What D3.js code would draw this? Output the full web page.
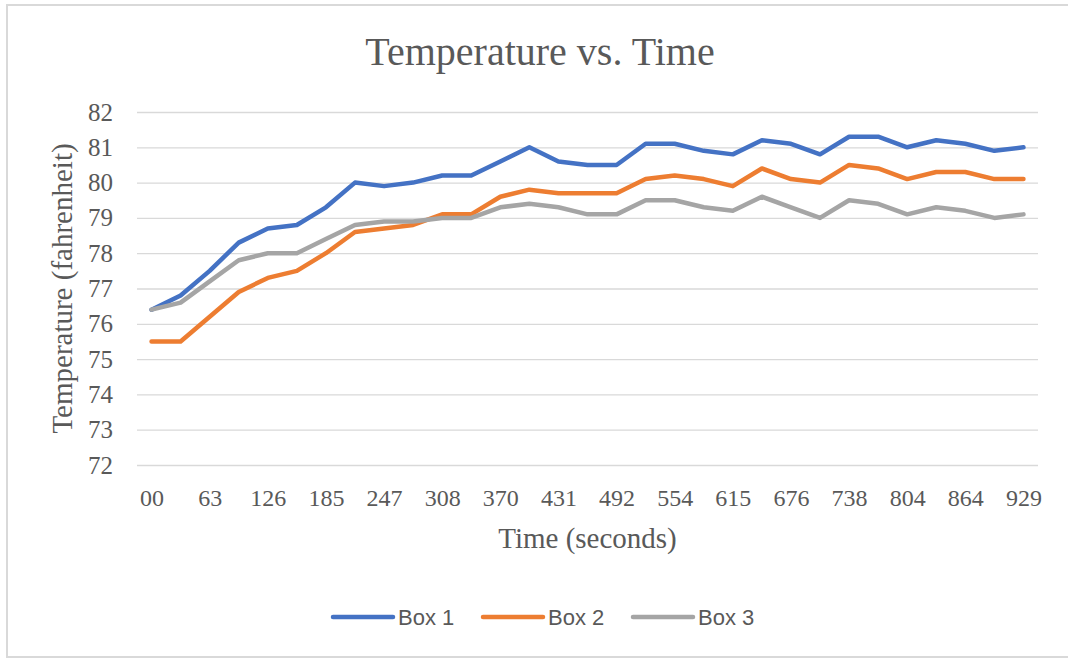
<!DOCTYPE html>
<html>
<head>
<meta charset="utf-8">
<script src="https://cdn.jsdelivr.net/npm/d3@7"></script>
<style>
  body { margin: 0; background: #fff; }
  svg { display: block; }
</style>
</head>
<body>
<div id="chart"></div>
<script>
// time stamps (only every other one is labelled on the axis)
const times = ["00","31","63","94","126","155","185","216","247","277","308","339","370","400","431","462",
  "492","523","554","585","615","646","676","707","738","771","804","834","864","897","929"];

const box1 = [76.4,76.8,77.5,78.3,78.7,78.8,79.3,80.0,79.9,80.0,80.2,80.2,80.6,81.0,80.6,80.5,
  80.5,81.1,81.1,80.9,80.8,81.2,81.1,80.8,81.3,81.3,81.0,81.2,81.1,80.9,81.0];
const box2 = [75.5,75.5,76.2,76.9,77.3,77.5,78.0,78.6,78.7,78.8,79.1,79.1,79.6,79.8,79.7,79.7,
  79.7,80.1,80.2,80.1,79.9,80.4,80.1,80.0,80.5,80.4,80.1,80.3,80.3,80.1,80.1];
const box3 = [76.4,76.6,77.2,77.8,78.0,78.0,78.4,78.8,78.9,78.9,79.0,79.0,79.3,79.4,79.3,79.1,
  79.1,79.5,79.5,79.3,79.2,79.6,79.3,79.0,79.5,79.4,79.1,79.3,79.2,79.0,79.1];

const seriesNames = ["Box 1", "Box 2", "Box 3"];
const yTicks = [72,73,74,75,76,77,78,79,80,81,82];

const series = [box1, box2, box3].map((v, k) => ({name: seriesNames[k], values: v}));

let width = 1068, height = 658;
let plot = {left: 137, right: 1038, top: 112, bottom: 465};
let serif = "'Liberation Serif', 'Times New Roman', serif";

let svg = d3.select("#chart").append("svg")
  .attr("width", width)
  .attr("height", height);

// chart border
svg.append("rect")
  .attr("x", 7).attr("y", 5)
  .attr("width", 1080).attr("height", 652)
  .attr("fill", "#fff")
  .attr("stroke", "#d9d9d9")
  .attr("stroke-width", 2);

let x = d3.scalePoint()
  .domain(times)
  .range([plot.left, plot.right])
  .padding(0.5);

let y = d3.scaleLinear()
  .domain([72, 82])
  .range([plot.bottom, plot.top]);

let color = d3.scaleOrdinal()
  .domain(seriesNames)
  .range(["#4472c4", "#ed7d31", "#a5a5a5"]);

// y axis + gridlines
let axeY = d3.axisLeft(y)
  .tickValues(yTicks)
  .tickSize(-(plot.right - plot.left))
  .tickPadding(24);

svg.append("g")
  .attr("transform", `translate(${plot.left},0)`)
  .call(axeY)
  .attr("font-family", serif)
  .attr("font-size", 25)
  .call(g => g.select(".domain").remove())
  .call(g => g.selectAll(".tick line").attr("stroke", "#d9d9d9").attr("stroke-width", 1.3))
  .call(g => g.selectAll(".tick text").attr("fill", "#595959"));

// x axis, labels on every other time stamp
let axeX = d3.axisBottom(x)
  .tickValues(times.filter((d, i) => i % 2 == 0))
  .tickSize(0)
  .tickPadding(24);

svg.append("g")
  .attr("transform", `translate(0,${plot.bottom})`)
  .call(axeX)
  .attr("font-family", serif)
  .attr("font-size", 24)
  .call(g => g.select(".domain").remove())
  .call(g => g.selectAll(".tick text").attr("fill", "#595959"));

let line = d3.line()
  .x((d, i) => x(times[i]))
  .y(d => y(d));

svg.selectAll(".series")
  .data(series)
  .enter()
  .append("path")
    .attr("class", "series")
    .attr("d", d => line(d.values))
    .attr("fill", "none")
    .attr("stroke", d => color(d.name))
    .attr("stroke-width", 4.5)
    .attr("stroke-linejoin", "round")
    .attr("stroke-linecap", "round");

// titles
svg.append("text")
  .attr("x", 540)
  .attr("y", 65)
  .attr("text-anchor", "middle")
  .attr("fill", "#595959")
  .attr("font-family", serif)
  .attr("font-size", 40)
  .text("Temperature vs. Time");

svg.append("text")
  .attr("x", (plot.left + plot.right) / 2)
  .attr("y", 548)
  .attr("text-anchor", "middle")
  .attr("fill", "#595959")
  .attr("font-family", serif)
  .attr("font-size", 29)
  .text("Time (seconds)");

svg.append("text")
  .attr("transform", `translate(72,${(plot.top + plot.bottom) / 2}) rotate(-90)`)
  .attr("text-anchor", "middle")
  .attr("fill", "#595959")
  .attr("font-family", serif)
  .attr("font-size", 29)
  .text("Temperature (fahrenheit)");

// legend
let legendX = [333, 483, 633];
let legend = svg.selectAll(".legend")
  .data(series)
  .enter()
  .append("g")
    .attr("class", "legend")
    .attr("transform", (d, i) => `translate(${legendX[i]},617)`);

legend.append("line")
  .attr("x1", 0).attr("x2", 60)
  .attr("stroke", d => color(d.name))
  .attr("stroke-width", 4.5)
  .attr("stroke-linecap", "round");

legend.append("text")
  .attr("x", 65)
  .attr("dy", "0.35em")
  .attr("fill", "#595959")
  .attr("font-family", "'Liberation Sans', sans-serif")
  .attr("font-size", 22)
  .text(d => d.name);
</script>
</body>
</html>
